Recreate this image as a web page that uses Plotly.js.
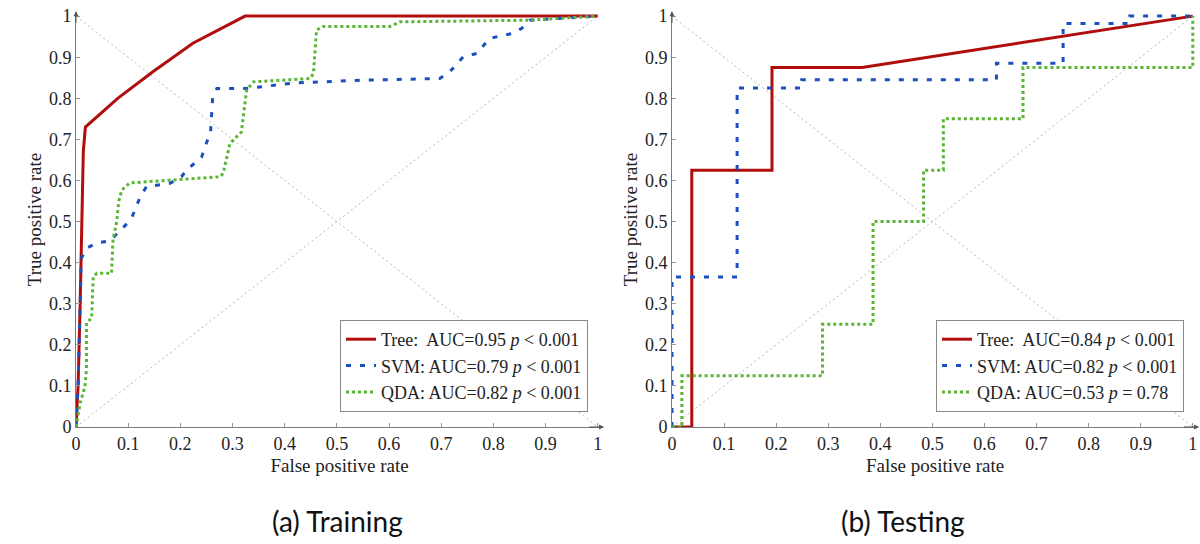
<!DOCTYPE html>
<html>
<head>
<meta charset="utf-8">
<script src="https://cdn.plot.ly/plotly-3.0.1.min.js"></script>
<style>html,body{margin:0;padding:0;background:#fff}#chart{width:1200px;height:544px}</style>
</head>
<body>
<div id="chart"></div>
<script>
// ---- data ----
const tickVals = [0,0.1,0.2,0.3,0.4,0.5,0.6,0.7,0.8,0.9,1];
const tickText = ["0","0.1","0.2","0.3","0.4","0.5","0.6","0.7","0.8","0.9","1"];
const diagX = [0,1];
const diagUpY = [0,1];
const diagDownY = [1,0];

const trainTreeX = [0,0.004,0.008,0.012,0.014,0.018,0.08,0.148,0.224,0.324,1];
const trainTreeY = [0,0.1,0.3,0.5,0.67,0.73,0.80,0.865,0.934,1,1];
const trainSvmX = [0,0.004,0.007,0.01,0.02,0.04,0.065,0.078,0.094,0.107,0.123,0.135,0.18,0.202,0.212,0.241,0.258,0.262,0.27,0.327,0.416,0.544,0.697,0.716,0.742,0.768,0.793,0.837,0.854,0.87,0.99,1];
const trainSvmY = [0,0.1,0.25,0.41,0.435,0.448,0.453,0.47,0.49,0.51,0.56,0.585,0.593,0.609,0.625,0.658,0.72,0.804,0.824,0.824,0.837,0.844,0.848,0.864,0.901,0.909,0.946,0.958,0.97,0.99,0.998,1];
const trainQdaX = [0,0.008,0.017,0.02,0.02,0.03,0.033,0.04,0.068,0.071,0.078,0.082,0.088,0.103,0.276,0.282,0.295,0.317,0.327,0.34,0.448,0.455,0.461,0.474,0.602,0.621,0.863,0.978,1];
const trainQdaY = [0,0.058,0.098,0.139,0.253,0.265,0.366,0.374,0.374,0.455,0.5,0.55,0.577,0.594,0.609,0.617,0.69,0.718,0.82,0.84,0.848,0.86,0.966,0.975,0.975,0.986,0.99,0.998,1];

const testTreeX = [0,0.038,0.038,0.192,0.192,0.365,1];
const testTreeY = [0,0,0.625,0.625,0.875,0.875,1];
const testSvmX = [0,0,0.125,0.125,0.249,0.249,0.623,0.623,0.751,0.751,0.879,0.879,1];
const testSvmY = [0,0.365,0.365,0.825,0.825,0.845,0.845,0.885,0.885,0.982,0.982,1,1];
const testQdaX = [0,0.019,0.019,0.289,0.289,0.386,0.386,0.483,0.483,0.521,0.521,0.674,0.674,1,1];
const testQdaY = [0,0,0.125,0.125,0.25,0.25,0.5,0.5,0.625,0.625,0.75,0.75,0.875,0.875,1];

const trainLabels = ["Tree:  AUC=0.95 <i>p</i> &lt; 0.001","SVM: AUC=0.79 <i>p</i> &lt; 0.001","QDA: AUC=0.82 <i>p</i> &lt; 0.001"];
const testLabels = ["Tree:  AUC=0.84 <i>p</i> &lt; 0.001","SVM: AUC=0.82 <i>p</i> &lt; 0.001","QDA: AUC=0.53 <i>p</i> = 0.78"];
const captions = ["(a) Training","(b) Testing"];

// ---- styles ----
const RED = "#b00d0d", BLUE = "#1a4fc0", GREEN = "#5ab535";
const SERIF = "Liberation Serif, DejaVu Serif, serif";
const styles = [
  {color: RED, width: 3, dash: "solid"},
  {color: BLUE, width: 3, dash: "5px,9px"},
  {color: GREEN, width: 3, dash: "3px,3px"}
];

function diag(xa, ya, yv) {
  return {x: diagX, y: yv, xaxis: xa, yaxis: ya, mode: "lines", showlegend: false,
    hoverinfo: "skip", line: {color: "#b5b5b5", width: 1, dash: "2px,3px"}};
}
function curve(xs, ys, i, name, xa, ya, leg) {
  return {x: xs, y: ys, xaxis: xa, yaxis: ya, mode: "lines", name: name, legend: leg,
    line: styles[i]};
}

const data = [
  diag("x","y",diagUpY), diag("x","y",diagDownY),
  diag("x2","y2",diagUpY), diag("x2","y2",diagDownY),
  curve(trainTreeX, trainTreeY, 0, trainLabels[0], "x","y","legend"),
  curve(trainSvmX, trainSvmY, 1, trainLabels[1], "x","y","legend"),
  curve(trainQdaX, trainQdaY, 2, trainLabels[2], "x","y","legend"),
  curve(testTreeX, testTreeY, 0, testLabels[0], "x2","y2","legend2"),
  curve(testSvmX, testSvmY, 1, testLabels[1], "x2","y2","legend2"),
  curve(testQdaX, testQdaY, 2, testLabels[2], "x2","y2","legend2")
];

const H = 544, W = 1200;
const yDom = [(H-427)/H, (H-12)/H];
function xaxis(d, anchor) {
  return {domain: d, range: [0, 1.01], anchor: anchor, showgrid: false, zeroline: false,
    showline: true, linecolor: "#7a7a7a", linewidth: 1, ticks: "inside", ticklen: 4,
    tickcolor: "#9a9a9a", tickvals: tickVals, ticktext: tickText,
    tickfont: {family: SERIF, size: 18, color: "#222"},
    title: {text: "False positive rate", font: {family: SERIF, size: 19, color: "#222"}, standoff: 6}};
}
function yaxis(anchor) {
  return {domain: yDom, range: [0, 1.01], anchor: anchor, showgrid: false, zeroline: false,
    showline: true, linecolor: "#7a7a7a", linewidth: 1, ticks: "inside", ticklen: 4,
    tickcolor: "#9a9a9a", tickvals: tickVals, ticktext: tickText,
    tickfont: {family: SERIF, size: 18, color: "#222"},
    title: {text: "True positive rate", font: {family: SERIF, size: 19, color: "#222"}, standoff: 2}};
}
function legend(xr) {
  return {x: xr, xanchor: "right", y: (H-412)/H, yanchor: "bottom", bgcolor: "#fff",
    bordercolor: "#888", borderwidth: 1, font: {family: SERIF, size: 18, color: "#222"},
    tracegroupgap: 0, itemwidth: 30};
}
function arrow(xr, yr, x, y, ax, ay) {
  return {xref: xr, yref: yr, axref: xr, ayref: yr, x: x, y: y, ax: ax, ay: ay, text: "",
    showarrow: true, arrowhead: 2, arrowsize: 1, arrowwidth: 1, arrowcolor: "#555", standoff: 0};
}

const layout = {
  width: W, height: H, margin: {l: 0, r: 0, t: 0, b: 0},
  paper_bgcolor: "#fff", plot_bgcolor: "#fff",
  xaxis: xaxis([76/W, 603/W], "y"),
  yaxis: yaxis("x"),
  xaxis2: xaxis([672/W, 1198/W], "y2"),
  yaxis2: yaxis("x2"),
  legend: legend(588/W),
  legend2: legend(1184/W),
  annotations: [
    arrow("x","y",1.012,0,0.98,0), arrow("x","y",0,1.012,0,0.98),
    arrow("x2","y2",1.012,0,0.98,0), arrow("x2","y2",0,1.012,0,0.98),
    {xref: "paper", yref: "paper", x: 337/W, y: (H-521)/H, xanchor: "center", yanchor: "middle",
      text: captions[0], showarrow: false,
      font: {family: "Lato, Open Sans, sans-serif", size: 28, color: "#111"}},
    {xref: "paper", yref: "paper", x: 903/W, y: (H-521)/H, xanchor: "center", yanchor: "middle",
      text: captions[1], showarrow: false,
      font: {family: "Lato, Open Sans, sans-serif", size: 28, color: "#111"}}
  ]
};

Plotly.newPlot("chart", data, layout, {displayModeBar: false, staticPlot: true});
</script>
</body>
</html>
